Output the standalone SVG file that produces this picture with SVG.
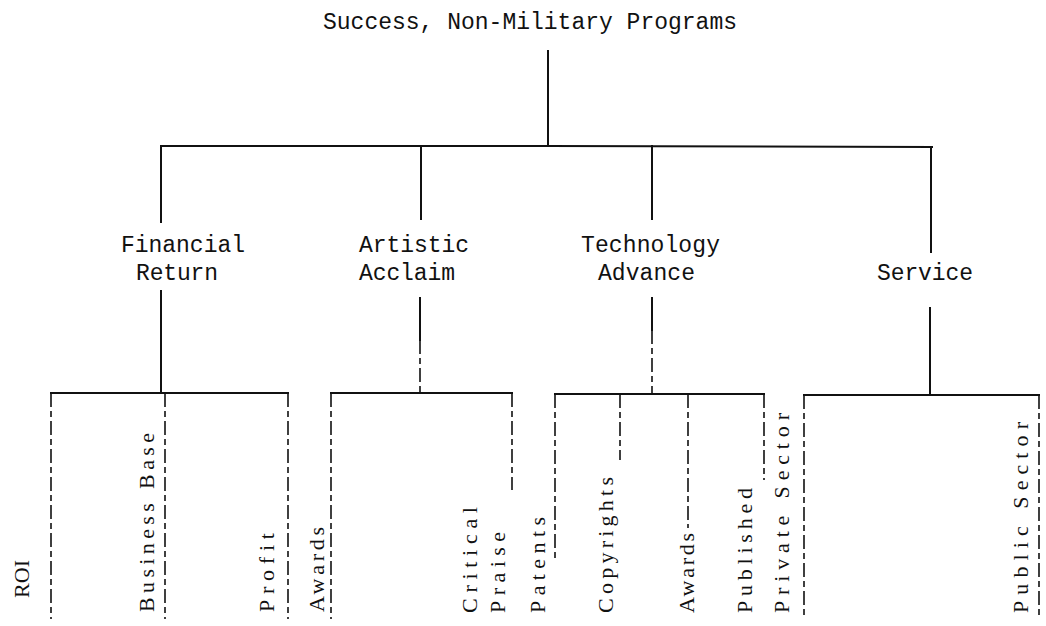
<svg xmlns="http://www.w3.org/2000/svg" width="1046" height="626" viewBox="0 0 1046 626">
<style>
.bg{fill:#ffffff}
.mono{font-family:"Liberation Mono","DejaVu Sans Mono",monospace;font-size:23px;fill:#111}
.leaf{font-family:"Liberation Serif","DejaVu Serif",serif;font-size:22px;fill:#111}
.ln{stroke:#111;stroke-width:2;fill:none;stroke-linecap:square}
.dl{stroke:#111;stroke-width:1.6;fill:none;stroke-dasharray:14 4 6 4}
</style>
<rect class="bg" x="0" y="0" width="1046" height="626"/>
<g id="connectors">
  <path class="ln" d="M548 51 V145"/>
  <path class="ln" d="M161 146 H547 L932 147"/>
  <path class="ln" d="M161 146 V222"/>
  <path class="ln" d="M421 146 V219"/>
  <path class="ln" d="M652 146 V219"/>
  <path class="ln" d="M931 147 V252"/>
  <path class="ln" d="M161 291 V392"/>
  <path class="ln" d="M420 298 V340"/>
  <path class="dl" d="M420 340 V393"/>
  <path class="ln" d="M652 298 V330"/>
  <path class="dl" d="M652 330 V393"/>
  <path class="ln" d="M930 308 V395"/>
  <path class="ln" d="M51 393 H288"/>
  <path class="dl" d="M51 393 V619"/>
  <path class="dl" d="M165 393 V619"/>
  <path class="dl" d="M288 393 V619"/>
  <path class="ln" d="M331 393 H512"/>
  <path class="dl" d="M331 393 V619"/>
  <path class="dl" d="M512 393 V490"/>
  <path class="ln" d="M555 394 H764"/>
  <path class="dl" d="M555 394 V560"/>
  <path class="dl" d="M620 394 V460"/>
  <path class="dl" d="M688 394 V528"/>
  <path class="dl" d="M764 394 V480"/>
  <path class="ln" d="M804 395 H1039"/>
  <path class="dl" d="M804 395 V619"/>
  <path class="dl" d="M1039 395 V619"/>
</g>
<g id="root"><text class="mono" x="323" y="29" textLength="414" lengthAdjust="spacing">Success, Non-Military Programs</text></g>
<g id="financial">
  <text class="mono" x="121" y="252" textLength="124" lengthAdjust="spacing">Financial</text>
  <text class="mono" x="136" y="280" textLength="82" lengthAdjust="spacing">Return</text>
</g>
<g id="artistic">
  <text class="mono" x="359" y="252" textLength="110" lengthAdjust="spacing">Artistic</text>
  <text class="mono" x="359" y="280" textLength="96" lengthAdjust="spacing">Acclaim</text>
</g>
<g id="technology">
  <text class="mono" x="581" y="252" textLength="139" lengthAdjust="spacing">Technology</text>
  <text class="mono" x="598" y="280" textLength="97" lengthAdjust="spacing">Advance</text>
</g>
<g id="service"><text class="mono" x="877" y="280" textLength="96" lengthAdjust="spacing">Service</text></g>
<g id="roi"><text class="leaf" transform="translate(29,598) rotate(-90)" textLength="38" lengthAdjust="spacing">ROI</text></g>
<g id="business-base"><text class="leaf" transform="translate(154,612) rotate(-90)" textLength="179" lengthAdjust="spacing">Business Base</text></g>
<g id="profit"><text class="leaf" transform="translate(274,612) rotate(-90)" textLength="79" lengthAdjust="spacing">Profit</text></g>
<g id="awards-artistic"><text class="leaf" transform="translate(324,612) rotate(-90)" textLength="85" lengthAdjust="spacing">Awards</text></g>
<g id="critical-praise">
  <text class="leaf" transform="translate(477,613) rotate(-90)" textLength="106" lengthAdjust="spacing">Critical</text>
  <text class="leaf" transform="translate(505,613) rotate(-90)" textLength="81" lengthAdjust="spacing">Praise</text>
</g>
<g id="patents"><text class="leaf" transform="translate(545,613) rotate(-90)" textLength="96" lengthAdjust="spacing">Patents</text></g>
<g id="copyrights"><text class="leaf" transform="translate(613,613) rotate(-90)" textLength="136" lengthAdjust="spacing">Copyrights</text></g>
<g id="awards-tech"><text class="leaf" transform="translate(694,613) rotate(-90)" textLength="80" lengthAdjust="spacing">Awards</text></g>
<g id="published"><text class="leaf" transform="translate(752,613) rotate(-90)" textLength="125" lengthAdjust="spacing">Published</text></g>
<g id="private-sector"><text class="leaf" transform="translate(789,613) rotate(-90)" textLength="200" lengthAdjust="spacing">Private Sector</text></g>
<g id="public-sector"><text class="leaf" transform="translate(1028,613) rotate(-90)" textLength="191" lengthAdjust="spacing">Public Sector</text></g>
</svg>
